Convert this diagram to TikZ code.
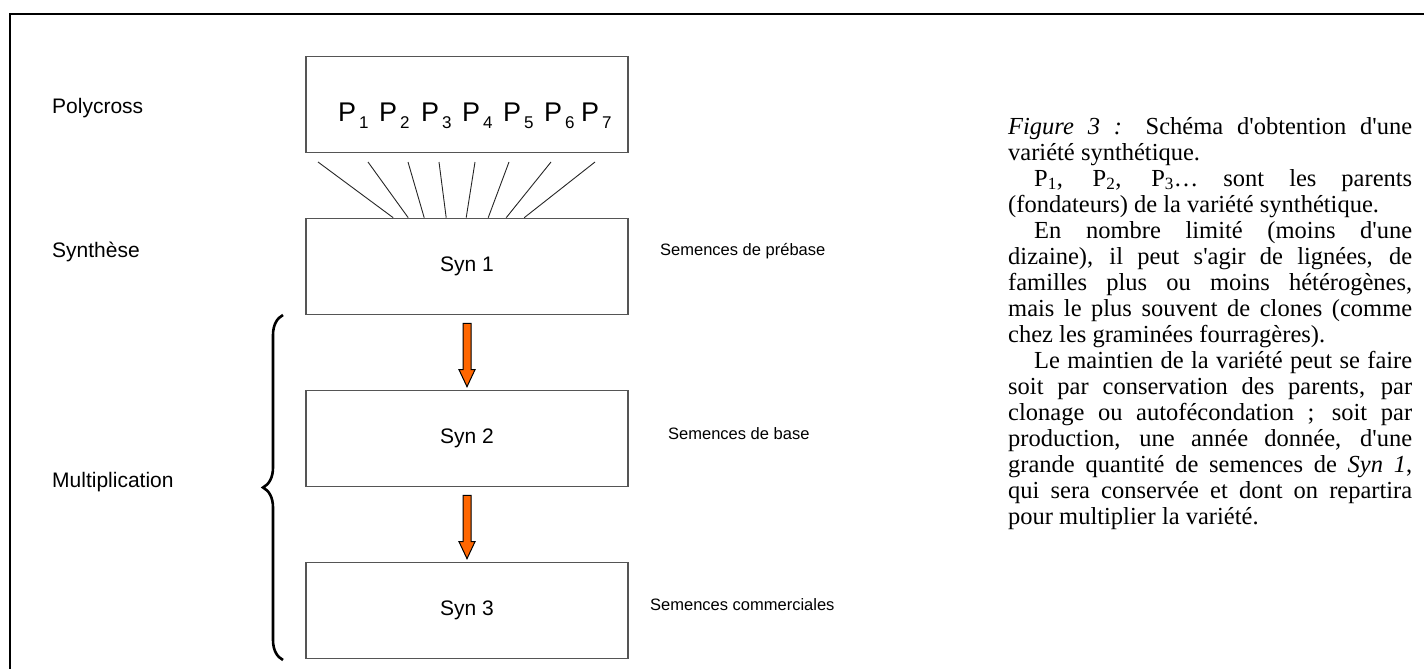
\documentclass[tikz,border=0pt]{standalone}
\usepackage{fontspec}
\setmainfont{Liberation Serif}[Ligatures=TeXOff]
\setsansfont{Liberation Sans}
\usetikzlibrary{calc, decorations.pathreplacing}
\definecolor{boxgray}{RGB}{85,85,85}
\definecolor{arroworange}{RGB}{255,102,0}

\tikzset{
  stagebox/.style={draw=boxgray, line width=1.6pt, minimum width=322pt, minimum height=96pt,
    inner sep=0pt, font=\sffamily\fontsize{21}{21}\selectfont},
  sidelabel/.style={anchor=west, inner sep=0pt, font=\sffamily\fontsize{21}{21}\selectfont},
  seedlabel/.style={anchor=west, inner sep=0pt, font=\sffamily\fontsize{16.5}{16.5}\selectfont},
  plabel/.style={anchor=base west, inner sep=0pt, font=\sffamily\fontsize{27}{27}\selectfont},
  fanline/.style={black!85, line width=0.9pt},
  flowarrow/.style={draw=black, fill=arroworange, line width=1pt, line join=miter},
  caption/.style={anchor=base west, inner sep=0pt, text width=404pt, align=justify,
    font=\fontsize{24.5}{26}\selectfont},
}

% block arrow from the bottom of one box to the top of the next
\newcommand{\stagearrow}[2]{%
  \draw[flowarrow] ($(#1.south)+(-4,8)$) -- ($(#2.north)+(-4,-20)$)
    -- ($(#2.north)+(-8,-20)$) -- ($(#2.north)+(0,-3)$) -- ($(#2.north)+(8,-20)$)
    -- ($(#2.north)+(4,-20)$) -- ($(#1.south)+(4,8)$) -- cycle;}

\begin{document}
\begin{tikzpicture}[x=1pt, y=-1pt]
  \useasboundingbox (0,0) rectangle (1424,669);
  % frame
  \draw[line width=2.6pt] (10,669) -- (10,14) -- (1424,14);

  % stages
  \node[stagebox] (poly) at (467,104.5) {};
  \node[stagebox] (syn1) at (467,266.5) {Syn 1};
  \node[stagebox] (syn2) at (467,438.5) {Syn 2};
  \node[stagebox] (syn3) at (467,610.5) {Syn 3};

  % parents
  \foreach \i/\x in {1/338, 2/379, 3/421, 4/462, 5/503, 6/544, 7/581}
    \node[plabel] (p\i) at (\x,121) {P\hspace{3pt}\raisebox{-7pt}{\fontsize{17}{17}\selectfont\i}};

  % crosses towards Syn 1
  \foreach \xt/\dx [count=\k] in {318/88, 368/103, 408/119, 439/141, 475/161, 509/183, 551/201, 595/219} {
    \coordinate (f\k) at (\xt,162);
    \draw[fanline] (f\k) -- ($(syn1.north west)+(\dx,0)$);
  }

  \stagearrow{syn1}{syn2}
  \stagearrow{syn2}{syn3}

  % brace over the multiplication steps
  \draw[line width=2.6pt, decorate, decoration={brace, amplitude=20pt}]
    (283,660) -- (283,315);

  % left labels
  \node[sidelabel] (lpoly) at (52,108) {Polycross};
  \node[sidelabel] (lsyn) at (52,252) {Synthèse};
  \node[sidelabel] (lmult) at (52,482) {Multiplication};

  % seed classes
  \node[seedlabel] (s1) at (660,251) {Semences de prébase};
  \node[seedlabel] (s2) at (668,434) {Semences de base};
  \node[seedlabel] (s3) at (650,605) {Semences commerciales};

  % caption
  \node[caption] (cap) at (1008,134) {\fontsize{24.5}{26}\selectfont
    \hyphenpenalty=10000\parindent=26pt
    \noindent\textit{Figure 3~:} Schéma d'obtention d'une\linebreak
    variété synthétique.\par
    P\textsubscript{1}, P\textsubscript{2}, P\textsubscript{3}… sont les parents\linebreak
    (fondateurs) de la variété synthétique.\par
    En nombre limité (moins d'une\linebreak
    dizaine), il peut s'agir de lignées, de\linebreak
    familles plus ou moins hétérogènes,\linebreak
    mais le plus souvent de clones (comme\linebreak
    chez les graminées fourragères).\par
    Le maintien de la variété peut se faire\linebreak
    soit par conservation des parents, par\linebreak
    clonage ou autofécondation~; soit par\linebreak
    production, une année donnée, d'une\linebreak
    grande quantité de semences de \textit{Syn 1},\linebreak
    qui sera conservée et dont on repartira\linebreak
    pour multiplier la variété.\par};
\end{tikzpicture}
\end{document}
